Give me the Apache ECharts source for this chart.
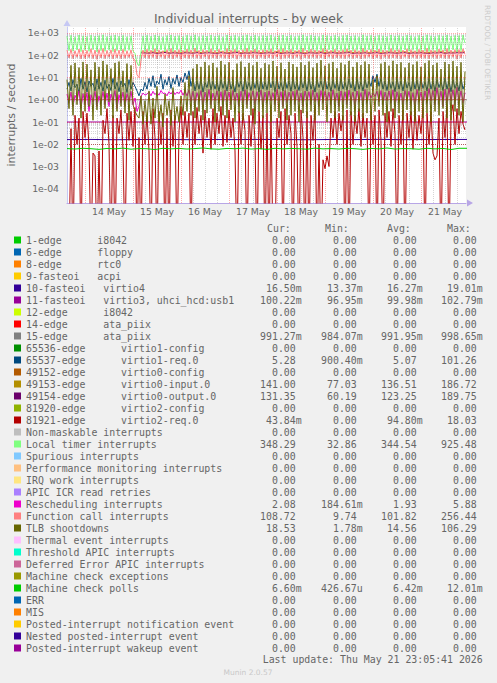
<!DOCTYPE html>
<html>
<head>
<meta charset="utf-8">
<script src="https://cdn.jsdelivr.net/npm/echarts@6/dist/echarts.min.js"></script>
<style>
html,body{margin:0;padding:0;background:#f0f0f0;}
#chart{width:497px;height:683px;}
</style>
</head>
<body>
<div id="chart"></div>
<script>
// ---------- time base (hourly samples, UTC) ----------
const START = Date.UTC(2026, 4, 13, 15, 0, 0);
const HOUR = 3600000;
const END = START + 199.5 * HOUR;

// ---------- legend table ----------
const NAMES = [
  '1-edge      i8042', '6-edge      floppy', '8-edge      rtc0', '9-fasteoi   acpi',
  '10-fasteoi   virtio4', '11-fasteoi   virtio3, uhci_hcd:usb1', '12-edge      i8042',
  '14-edge      ata_piix', '15-edge      ata_piix', '65536-edge      virtio1-config',
  '65537-edge      virtio1-req.0', '49152-edge      virtio0-config', '49153-edge      virtio0-input.0',
  '49154-edge      virtio0-output.0', '81920-edge      virtio2-config', '81921-edge      virtio2-req.0',
  'Non-maskable interrupts', 'Local timer interrupts', 'Spurious interrupts',
  'Performance monitoring interrupts', 'IRQ work interrupts', 'APIC ICR read retries',
  'Rescheduling interrupts', 'Function call interrupts', 'TLB shootdowns',
  'Thermal event interrupts', 'Threshold APIC interrupts', 'Deferred Error APIC interrupts',
  'Machine check exceptions', 'Machine check polls', 'ERR', 'MIS',
  'Posted-interrupt notification event', 'Nested posted-interrupt event', 'Posted-interrupt wakeup event'
];
const COLORS = [
  '#00CC00', '#0066B3', '#FF8000', '#FFCC00', '#330099', '#990099', '#CCFF00', '#FF0000', '#808080',
  '#008F00', '#00487D', '#B35A00', '#B38F00', '#6B006B', '#8FB300', '#B30000', '#BEBEBE', '#80FF80',
  '#80C9FF', '#FFC080', '#FFE680', '#AA80FF', '#EE00CC', '#FF8080', '#666600', '#FFBFFF', '#00FFCC',
  '#CC6699', '#999900', '#00CC00', '#0066B3', '#FF8000', '#FFCC00', '#330099', '#990099'
];
const CUR = ['0.00','0.00','0.00','0.00','16.50m','100.22m','0.00','0.00','991.27m','0.00','5.28','0.00','141.00','131.35','0.00','43.84m','0.00','348.29','0.00','0.00','0.00','0.00','2.08','108.72','18.53','0.00','0.00','0.00','0.00','6.60m','0.00','0.00','0.00','0.00','0.00'];
const MIN = ['0.00','0.00','0.00','0.00','13.37m','96.95m','0.00','0.00','984.07m','0.00','900.40m','0.00','77.03','60.19','0.00','0.00','0.00','32.86','0.00','0.00','0.00','0.00','184.61m','9.74','1.78m','0.00','0.00','0.00','0.00','426.67u','0.00','0.00','0.00','0.00','0.00'];
const AVG = ['0.00','0.00','0.00','0.00','16.27m','99.98m','0.00','0.00','991.95m','0.00','5.07','0.00','136.51','123.25','0.00','94.80m','0.00','344.54','0.00','0.00','0.00','0.00','1.93','101.82','14.56','0.00','0.00','0.00','0.00','6.42m','0.00','0.00','0.00','0.00','0.00'];
const MAX = ['0.00','0.00','0.00','0.00','19.01m','102.79m','0.00','0.00','998.65m','0.00','101.26','0.00','186.72','189.75','0.00','18.03','0.00','925.48','0.00','0.00','0.00','0.00','5.88','256.44','106.29','0.00','0.00','0.00','0.00','12.01m','0.00','0.00','0.00','0.00','0.00'];

// ---------- series values ----------
// hourly from START (200 samples)
const LOC = [
  720,160,780,150,690,170,810,145,740,165,700,150,790,175,730,140,760,160,820,150,
  700,170,750,145,800,160,720,155,770,150,690,165,740,155,120,45,33,140,740,150,
  780,155,720,160,800,150,740,170,690,145,770,160,810,150,730,165,760,140,700,160,
  790,150,740,165,820,155,700,150,760,170,730,145,800,160,720,150,770,165,690,155,
  810,150,740,160,780,145,700,170,760,155,820,150,730,160,790,145,710,165,770,150,
  740,160,800,150,690,170,760,145,810,155,730,160,780,150,700,165,750,140,820,160,
  720,150,790,165,740,155,700,160,810,145,760,170,730,150,780,160,700,155,770,150,
  800,165,730,150,760,160,690,145,820,155,740,170,780,150,710,160,790,145,750,165,
  700,150,810,160,740,155,770,145,720,170,800,150,760,165,690,150,780,160,730,155,
  820,145,750,165,700,150,790,160,740,155,810,150,720,170,770,145,760,160,800,348
];
const CAL = [
  170,75,185,70,160,80,190,68,175,72,165,78,195,70,170,65,180,75,200,70,
  165,80,175,68,190,74,170,70,185,72,160,78,175,70,60,13,10,60,170,75,
  185,70,170,78,195,68,175,80,160,70,180,74,200,68,170,78,180,65,165,75,
  190,70,175,78,205,72,165,70,180,80,170,66,195,74,170,70,185,78,160,72,
  200,70,175,75,185,66,165,80,180,72,205,70,170,75,190,68,170,78,180,70,
  175,75,195,70,160,80,180,66,200,72,170,75,185,70,165,78,175,64,205,75,
  170,70,190,78,175,72,165,75,200,68,180,80,170,70,185,75,165,72,180,70,
  195,78,170,70,180,75,160,68,205,72,175,80,185,70,170,75,190,66,175,78,
  165,70,200,75,175,72,180,68,170,80,195,70,180,78,160,70,185,75,170,72,
  205,68,175,78,165,70,190,75,175,72,200,70,170,80,180,66,180,75,195,109
];
const TLB = [
  8,0.4,35,0.2,45,0.6,28,0.15,50,0.3,40,0.5,22,0.12,48,0.35,30,0.2,55,0.4,
  38,0.8,25,0.15,45,0.3,52,0.5,20,0.25,42,0.12,35,0.6,0.3,0.2,0.15,1.5,0.08,0.9,
  0.1,2.5,0.08,1.2,0.15,4,0.1,0.6,0.06,1.8,0.2,0.9,0.07,3.5,0.12,0.5,0.1,1.5,0.2,6,
  0.3,12,0.2,25,0.15,40,0.3,30,0.12,50,0.25,35,0.4,45,0.1,28,0.3,55,0.2,38,
  0.15,48,0.35,22,0.1,42,0.25,52,0.12,30,0.4,45,0.2,35,0.08,50,0.3,26,0.15,44,
  0.25,38,0.1,55,0.3,32,0.15,46,0.4,24,0.12,50,0.2,40,0.3,30,0.1,48,0.25,36,
  0.15,52,0.3,28,0.12,44,0.2,60,0.35,34,0.1,42,0.25,50,0.15,26,0.3,46,0.12,38,
  0.4,55,0.2,30,0.1,48,0.3,36,0.15,52,0.25,40,0.12,8,0.3,12,0.5,42,0.2,50,
  0.1,34,0.3,56,0.15,40,0.25,48,0.12,28,0.35,45,0.2,38,0.1,52,0.3,30,0.15,44,
  0.25,58,0.1,36,0.3,46,0.2,24,0.4,50,0.15,40,0.12,54,0.3,32,0.2,48,0.1,18.5
];
const VIRTIO1_REQ = [
  3,6,2.5,8,3.5,5,2,9,3,6.5,2.2,7,4,5.5,2.5,8.5,3,6,2.4,7.5,
  3.2,5,2.6,9,3,6,2.3,7,3.8,5.5,2.1,8,3,6,4,2.5,1.5,3,2.5,6,
  3,9,4,12,3.5,7,5,14,3,8,4.5,11,3.2,9,5,13,4,10,6,16,
  8,20,4,9,2.5,7,3,8,2.2,6,3.5,9,2.8,7,3,6.5,2.4,8,3.2,7,
  2.5,9,3,6,2.2,8,3.6,7,2.4,9.5,3,6,2.6,8,3.2,7.5,2.2,9,3,6.5,
  2.8,8,3.4,7,2.3,9,3,6,2.5,8.5,3.2,7,2.4,9,3,6,2.6,8,3.3,7.5,
  2.5,9,3,6.5,2.2,8,3.5,7,2.6,9.5,3,6,2.4,8,3.2,7,2.5,9,3,6,
  2.7,8.5,3.3,7,2.4,9,3,6.5,2.5,8,3.4,7,4,12,6,14,4,9,3,7,
  2.6,8,3.2,6.5,2.3,9,3,7,2.5,8.5,3.3,6,2.4,9,3,7.5,2.6,8,3.2,6.5,
  2.5,9,3,7,2.4,8,3.5,6.5,2.6,9.5,3,7,2.3,8,3.2,6,2.5,9,3,5.3
];
const RES = [
  1.8,0.7,2.2,0.5,1.6,0.9,2.5,0.4,1.9,0.6,2.1,0.3,1.7,0.8,2.4,0.5,1.5,0.7,2.3,0.6,
  2,0.5,1.8,0.9,2.6,0.4,1.7,0.7,2.2,0.5,1.9,0.8,2.4,0.6,1.2,0.3,0.5,1.4,2,1.6,
  1.8,2.2,1.5,2.4,1.7,2.1,1.6,2.6,1.9,2.0,1.5,2.3,1.8,2.5,1.7,2.2,1.9,2.7,1.6,2.4,
  1.5,2.8,0.8,2.4,0.6,2.1,0.9,2.6,0.5,2.2,0.8,2.9,0.6,2.0,0.9,2.5,0.7,2.3,0.5,2.7,
  0.8,2.2,0.6,2.6,0.9,2.0,0.5,2.4,0.7,2.8,0.6,2.1,0.9,2.5,0.6,2.3,0.8,2.7,0.5,2.2,
  0.7,2.5,0.9,2.1,0.6,2.9,0.8,2.3,0.5,2.6,0.7,2.2,0.9,2.4,0.6,2.8,0.8,2.0,0.5,2.5,
  0.9,2.3,0.6,2.7,0.8,2.1,0.5,2.6,0.7,2.4,0.9,2.2,0.6,2.8,0.8,2.0,0.5,2.5,0.7,2.3,
  0.6,2.7,0.9,2.2,0.5,2.5,0.8,2.1,0.6,2.9,0.7,2.3,1.2,2.0,1.4,2.4,0.8,2.6,0.6,2.2,
  0.9,2.5,0.7,2.8,0.5,2.3,0.8,2.0,0.6,2.6,0.9,2.4,0.7,2.1,0.5,2.9,0.8,2.2,0.6,2.5,
  0.7,3.2,0.9,2.6,0.6,3.5,0.8,2.4,0.5,3.0,0.7,3.3,0.9,2.8,0.6,3.6,0.8,2.5,0.7,2.08
];
const VIRTIO2_REQ = [
  0,0,0.05,0,0.2,0.01,0.15,0,0.3,0.02,0.25,0.008,0,0.004,0.003,0,0.005,0,0.12,0.03,
  0.4,0.01,0,0.2,0,0.15,0.03,0.35,0.006,0,0.25,0.015,0.3,0.008,0.45,0,0.02,0,0.3,0.01,
  0.2,0.005,0,0.4,0.02,0,0.3,0.01,0.25,0,0.15,0,0.35,0.008,0.2,0,0.04,0.5,0.01,0.3,
  0.02,0.25,0,0.3,0.01,0.45,0.03,0.2,0.004,0.35,0.02,0.15,0.006,0.4,0.01,0.25,0.03,0.5,0.008,0.2,
  0.012,0.35,0.02,0.15,0.005,0,0.3,0.01,0.25,0.04,0,0.2,0.008,0.4,0.015,0,0.3,0.006,0.2,0,
  0.25,0,0.35,0,0,0.15,0.02,0.3,0,0.4,0.01,0.2,0.03,0,0.25,0.008,0,0.35,0.02,0,
  0.3,0,0.2,0.015,0.45,0,0.01,0,0.002,0.0008,0.003,0.001,0.15,0.02,0.3,0.01,0.25,0.04,0.2,0,
  0.35,0,0.3,0.01,0.2,0.03,0.4,0.008,0.25,0.02,0.15,0,0.3,0.01,0.2,0,0.35,0.015,0,0.25,
  0.02,0.3,0.008,0.4,0.03,0,0.2,0.01,0.35,0,0.25,0.02,0.3,0.006,0.4,0.015,0.2,0.03,0.45,0,
  0.25,0.01,0.3,0.004,0.002,0.003,0.15,0,0.3,0.02,0.5,0,0.2,0.6,0.01,0.4,0.03,0.3,0.08,0.044
];
// every 2 hours, starting 37 h after START (after the reboot)
const VIRTIO0_IN = [
  140,138,135,142,130,137,145,133,139,136,128,141,137,134,143,131,138,140,135,129,
  142,136,133,139,144,130,137,135,141,138,132,136,140,134,145,131,137,139,133,142,
  136,128,140,137,135,143,130,138,141,134,136,139,144,132,137,135,140,133,138,142,
  129,136,141,137,134,139,143,131,138,136,140,135,132,139,137,144,133,138,136,141,139,141
];
const VIRTIO0_OUT = [
  128,125,122,130,118,126,134,120,127,124,115,129,125,121,131,119,126,128,122,117,
  130,124,120,127,132,118,125,122,129,126,119,124,128,121,133,118,125,127,120,130,
  124,116,128,125,122,131,118,126,129,121,124,127,132,119,125,122,128,120,126,130,
  117,124,129,125,121,127,131,118,126,124,128,122,119,127,125,132,120,126,124,129,127,131.35
];
// every 12 hours
const IRQ10 = [0.0162,0.0165,0.016,0.0163,0.0166,0.0161,0.0164,0.0162,0.0165,0.0163,0.016,0.0164,0.0162,0.0166,0.0161,0.0163,0.0164,0.0165];
const IRQ11 = [0.0998,0.1002,0.0996,0.1001,0.0999,0.0997,0.1003,0.1,0.0998,0.1001,0.0999,0.1002,0.0997,0.1,0.0998,0.1001,0.0999,0.1002];
const IRQ15 = [0.992,0.991,0.993,0.990,0.992,0.991,0.994,0.992,0.990,0.993,0.991,0.992,0.993,0.990,0.992,0.991,0.993,0.991];
// every 4 hours
const MCP = [
  0.0064,0.0061,0.0066,0.0063,0.0059,0.0065,0.0062,0.0067,0.0060,0.0064,
  0.0063,0.0058,0.0066,0.0062,0.0065,0.0061,0.0064,0.0068,0.0062,0.0060,
  0.0065,0.0063,0.0067,0.0061,0.0064,0.0059,0.0066,0.0062,0.0065,0.0063,
  0.0060,0.0067,0.0062,0.0064,0.0061,0.0066,0.0063,0.0059,0.0065,0.0062,
  0.0068,0.0061,0.0064,0.0063,0.0060,0.0066,0.0062,0.0065,0.0058,0.0066,0.0066
];

// tick labels
const Y_TICK_EXPONENTS = [-4,-3,-2,-1,0,1,2,3];
const MONTH_LABEL = 'May';

// ---------- helpers ----------
const ZERO_FLOOR = 1e-7; // zero cannot be shown on a log axis: sent below the axis floor (clipped)
function pts(arr, offsetH, stepH) {
  return arr.map((v, i) => [START + (offsetH + i * stepH) * HOUR, v === 0 ? ZERO_FLOOR : v]);
}
const SERIES_DATA = {
  '10-fasteoi   virtio4': pts(IRQ10, 0, 12),
  '11-fasteoi   virtio3, uhci_hcd:usb1': pts(IRQ11, 0, 12),
  '15-edge      ata_piix': pts(IRQ15, 0, 12),
  '65537-edge      virtio1-req.0': pts(VIRTIO1_REQ, 0, 1),
  '49153-edge      virtio0-input.0': pts(VIRTIO0_IN, 37, 2),
  '49154-edge      virtio0-output.0': pts(VIRTIO0_OUT, 37, 2),
  '81921-edge      virtio2-req.0': pts(VIRTIO2_REQ, 0, 1),
  'Local timer interrupts': pts(LOC, 0, 1),
  'Rescheduling interrupts': pts(RES, 0, 1),
  'Function call interrupts': pts(CAL, 0, 1),
  'TLB shootdowns': pts(TLB, 0, 1),
  'Machine check polls': pts(MCP, 0, 4)
};

const Y_MIN = 2.3e-5, Y_MAX = 1850;
const FONT = '#666666';
const MAJOR = 'rgba(255,0,0,0.33)';
const MINOR = 'rgba(120,120,120,0.3)';

// grid lines (drawn through the axes as mark lines)
const gridLines = [];
for (let n = -5; n <= 3; n++) {
  for (let k = 2; k <= 9; k++) {
    const v = k * Math.pow(10, n);
    if (v > Y_MIN && v < Y_MAX) gridLines.push({ yAxis: v, lineStyle: { color: MINOR, type: [1, 1], width: 1 } });
  }
}
for (let h = 3; h < 199.5; h += 6) {
  const t = START + h * HOUR;
  if (new Date(t).getUTCHours() !== 0) gridLines.push({ xAxis: t, lineStyle: { color: MINOR, type: [1, 1], width: 1 } });
}
Y_TICK_EXPONENTS.forEach(e => gridLines.push({ yAxis: Math.pow(10, e), lineStyle: { color: MAJOR, type: [1, 1], width: 1 } }));
for (let h = 9; h < 199.5; h += 24) {
  gridLines.push({ xAxis: START + h * HOUR, lineStyle: { color: MAJOR, type: [1, 1], width: 1 } });
}

function fmtVal(s) {
  const last = s.charAt(s.length - 1);
  if (/[a-z]/i.test(last)) return s;
  return s + '\u00a0';
}

const series = [{
  name: '__grid', type: 'line', data: [], silent: true, z: 1,
  markLine: { silent: true, symbol: ['none', 'none'], label: { show: false }, animation: false, data: gridLines }
}];
NAMES.forEach((name, i) => {
  series.push({
    name: name, type: 'line', data: SERIES_DATA[name] || [],
    color: COLORS[i], showSymbol: false, symbol: 'none', silent: true, z: 2,
    lineStyle: { width: 1, color: COLORS[i] }, clip: true
  });
});

const mono = 'DejaVu Sans Mono';
const richBase = { fontFamily: mono, fontSize: 9.9, color: FONT, lineHeight: 12 };

const option = {
  animation: false,
  useUTC: true,
  backgroundColor: '#f0f0f0',
  title: {
    text: 'Individual interrupts - by week', left: 'center', top: 12.3, padding: 0,
    textStyle: { fontFamily: 'DejaVu Sans', fontSize: 12.4, fontWeight: 'normal', color: FONT }
  },
  grid: {
    left: 67, right: 31, top: 27, height: 176, show: true, backgroundColor: '#ffffff',
    borderWidth: 0, containLabel: false, outerBoundsMode: 'none'
  },
  xAxis: {
    type: 'time', min: START, max: END, splitNumber: 8,
    axisLine: { show: true, lineStyle: { color: '#b8a6e6', width: 1 }, symbol: ['none', 'triangle'], symbolSize: [7, 6], symbolOffset: [0, 4] },
    axisTick: { show: false }, splitLine: { show: false }, minorTick: { show: false },
    axisLabel: {
      show: true, showMinLabel: false, showMaxLabel: false, hideOverlap: false,
      align: 'left', padding: [0, 0, 0, 7], margin: 4,
      fontFamily: 'DejaVu Sans', fontSize: 9.3, color: FONT,
      formatter: function (value) {
        const d = new Date(value);
        if (d.getUTCHours() !== 0 || d.getUTCMinutes() !== 0) return '';
        return d.getUTCDate() + ' ' + MONTH_LABEL;
      }
    }
  },
  yAxis: {
    type: 'log', logBase: 10, min: Y_MIN, max: Y_MAX, splitNumber: 8,
    name: 'interrupts / second', nameLocation: 'middle', nameGap: 50,
    nameTextStyle: { fontFamily: 'DejaVu Sans', fontSize: 10.9, color: FONT },
    axisLine: { show: true, lineStyle: { color: '#c6c8f4', width: 1 }, symbol: ['none', 'triangle'], symbolSize: [7, 6], symbolOffset: [0, 4] },
    axisTick: { show: false }, splitLine: { show: false }, minorSplitLine: { show: false },
    axisLabel: {
      margin: 8, fontFamily: 'DejaVu Sans', fontSize: 9.3, color: FONT,
      formatter: function (v) {
        const e = Math.log10(v);
        const n = Math.round(e);
        if (Math.abs(e - n) > 1e-6 || Y_TICK_EXPONENTS.indexOf(n) < 0) return '';
        return '1e' + (n < 0 ? '-' : '+') + String(Math.abs(n)).padStart(2, '0');
      }
    }
  },
  legend: {
    orient: 'vertical', left: 14, top: 234, itemWidth: 7, itemHeight: 7, itemGap: 0,
    icon: 'rect', selectedMode: false, padding: 0, data: NAMES,
    textStyle: {
      fontFamily: mono, fontSize: 9.9, color: FONT, lineHeight: 12,
      rich: {
        n: Object.assign({ width: 215.7, align: 'left' }, richBase),
        c: Object.assign({ width: 60, align: 'right' }, richBase),
        m: Object.assign({ width: 61, align: 'right' }, richBase),
        a: Object.assign({ width: 60, align: 'right' }, richBase),
        x: Object.assign({ width: 60, align: 'right' }, richBase)
      }
    },
    formatter: function (name) {
      const i = NAMES.indexOf(name);
      return '{n|' + name.replace(/ /g, '\u00a0') + '}' +
        '{c|' + fmtVal(CUR[i]) + '}' + '{m|' + fmtVal(MIN[i]) + '}' +
        '{a|' + fmtVal(AVG[i]) + '}' + '{x|' + fmtVal(MAX[i]) + '}';
    }
  },
  graphic: [
    { type: 'text', x: 267, y: 228, style: { text: 'Cur:', font: '9.9px "DejaVu Sans Mono"', fill: FONT, textVerticalAlign: 'middle', verticalAlign: 'middle' } },
    { type: 'text', x: 325, y: 228, style: { text: 'Min:', font: '9.9px "DejaVu Sans Mono"', fill: FONT, textVerticalAlign: 'middle', verticalAlign: 'middle' } },
    { type: 'text', x: 387, y: 228, style: { text: 'Avg:', font: '9.9px "DejaVu Sans Mono"', fill: FONT, textVerticalAlign: 'middle', verticalAlign: 'middle' } },
    { type: 'text', x: 447, y: 228, style: { text: 'Max:', font: '9.9px "DejaVu Sans Mono"', fill: FONT, textVerticalAlign: 'middle', verticalAlign: 'middle' } },
    { type: 'text', x: 482.7, y: 659.5, style: { text: 'Last update: Thu May 21 23:05:41 2026', font: '9.9px "DejaVu Sans Mono"', fill: FONT, textAlign: 'right', align: 'right', textVerticalAlign: 'middle', verticalAlign: 'middle' } },
    { type: 'text', x: 248, y: 672, style: { text: 'Munin 2.0.57', font: '7.5px "DejaVu Sans"', fill: '#c8c8c8', textAlign: 'center', align: 'center', textVerticalAlign: 'middle', verticalAlign: 'middle' } },
    { type: 'text', x: 487.5, y: 52.5, rotation: -Math.PI / 2, style: { text: 'RRDTOOL / TOBI OETIKER', font: '7.4px "DejaVu Sans"', fill: '#cccccc', textAlign: 'center', align: 'center', textVerticalAlign: 'middle', verticalAlign: 'middle' } }
  ],
  series: series
};

const chart = echarts.init(document.getElementById('chart'), null, { renderer: 'svg', width: 497, height: 683 });
chart.setOption(option);
</script>
</body>
</html>
